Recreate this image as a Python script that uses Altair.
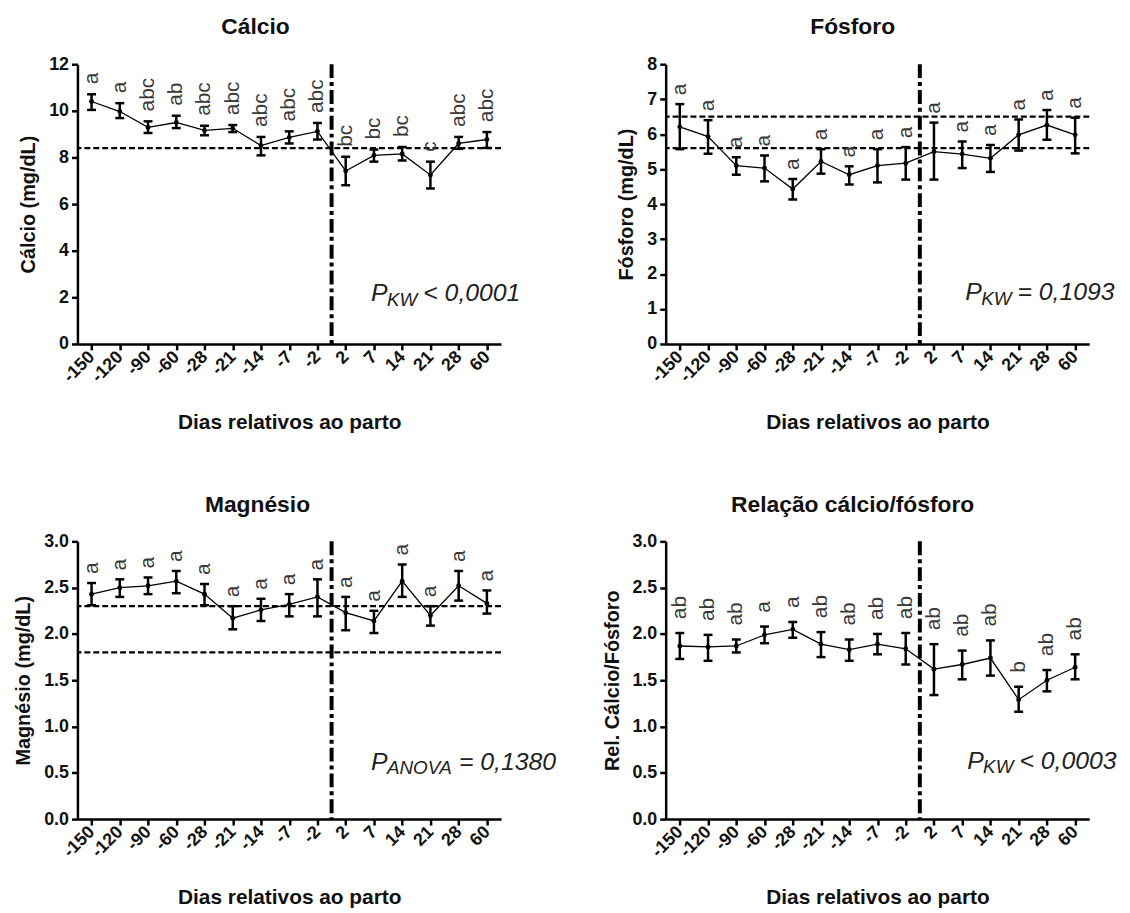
import json
import altair as alt
import pandas as pd

FONT = "Liberation Sans"

days = ["-150", "-120", "-90", "-60", "-28", "-21", "-14", "-7", "-2",
        "2", "7", "14", "21", "28", "60"]

ca_mean = [10.40, 9.97, 9.29, 9.50, 9.16, 9.25, 8.51, 8.86, 9.12, 7.42, 8.09, 8.15, 7.25, 8.60, 8.77]
ca_hi = [10.71, 10.33, 9.55, 9.79, 9.36, 9.39, 8.88, 9.12, 9.48, 8.03, 8.34, 8.45, 7.82, 8.88, 9.09]
ca_lo = [10.04, 9.69, 9.05, 9.26, 8.95, 9.09, 8.09, 8.60, 8.77, 6.81, 7.82, 7.87, 6.67, 8.37, 8.41]
ca_letters = ["a", "a", "abc", "ab", "abc", "abc", "abc", "abc", "abc", "bc", "bc", "bc", "c", "abc", "abc"]
ca_refs = [8.4]

p_mean = [6.21, 5.93, 5.10, 5.03, 4.43, 5.22, 4.84, 5.10, 5.17, 5.50, 5.43, 5.31, 5.98, 6.26, 5.98]
p_hi = [6.86, 6.40, 5.34, 5.39, 4.72, 5.57, 5.08, 5.57, 5.63, 6.33, 5.79, 5.69, 6.42, 6.69, 6.47]
p_lo = [5.57, 5.44, 4.84, 4.65, 4.13, 4.87, 4.56, 4.62, 4.70, 4.70, 5.03, 4.92, 5.53, 5.84, 5.45]
p_letters = ["a"] * 15
p_refs = [5.6, 6.5]

mg_mean = [2.43, 2.50, 2.52, 2.57, 2.43, 2.17, 2.26, 2.32, 2.40, 2.23, 2.14, 2.57, 2.20, 2.52, 2.33]
mg_hi = [2.55, 2.59, 2.61, 2.68, 2.54, 2.30, 2.38, 2.43, 2.59, 2.40, 2.25, 2.75, 2.30, 2.68, 2.47]
mg_lo = [2.31, 2.40, 2.43, 2.44, 2.31, 2.05, 2.14, 2.19, 2.19, 2.04, 2.01, 2.40, 2.09, 2.36, 2.22]
mg_letters = ["a"] * 15
mg_refs = [1.8, 2.3]

r_mean = [1.87, 1.86, 1.87, 1.99, 2.05, 1.89, 1.83, 1.89, 1.84, 1.62, 1.67, 1.74, 1.29, 1.50, 1.64]
r_hi = [2.01, 1.99, 1.94, 2.08, 2.13, 2.02, 1.94, 2.00, 2.01, 1.89, 1.82, 1.93, 1.43, 1.61, 1.78]
r_lo = [1.73, 1.71, 1.80, 1.90, 1.96, 1.75, 1.71, 1.78, 1.67, 1.34, 1.51, 1.55, 1.16, 1.38, 1.51]
r_letters = ["ab", "ab", "ab", "a", "a", "ab", "ab", "ab", "ab", "ab", "ab", "ab", "b", "ab", "ab"]
r_refs = []

LABEL_EXPR = json.dumps(days) + "[datum.value]"

# approximate italic advance widths (em) for subscript placement
ADV = {"K": 0.667, "W": 0.944, "A": 0.667, "N": 0.722, "O": 0.778, "V": 0.667}
SUB_SIZE = 19


def xenc(field):
    return alt.X(field, type="quantitative",
                 scale=alt.Scale(domain=[-0.5, 14.5], nice=False, zero=False),
                 axis=alt.Axis(values=list(range(15)), labelExpr=LABEL_EXPR,
                               title="Dias relativos ao parto", labelAngle=315,
                               labelAlign="right", labelBaseline="middle",
                               labelOverlap=False, labelFontSize=18, titleFontSize=21,
                               titlePadding=26, labelPadding=4))


def yenc(field, ymax, yticks, fmt, ytitle):
    return alt.Y(field, type="quantitative",
                 scale=alt.Scale(domain=[0, ymax], nice=False, zero=True),
                 axis=alt.Axis(values=yticks, format=fmt, title=ytitle,
                               labelFontSize=18, titleFontSize=20, titlePadding=10,
                               labelOverlap=False))


def panel(title, title_dx, ytitle, ymax, yticks, fmt, mean, lo, hi, letters, refs,
          sub, rest, ann_x, ann_y, letter_dx, height):
    df = pd.DataFrame({"i": list(range(len(days))), "day": days, "mean": mean,
                       "lo": lo, "hi": hi, "letter": letters})
    base = alt.Chart(df)
    Y = lambda f: yenc(f, ymax, yticks, fmt, ytitle)

    layers = []
    if refs:
        layers.append(alt.Chart(pd.DataFrame({"r": refs})).mark_rule(
            color="black", strokeWidth=2.3, strokeDash=[6, 3]).encode(y=Y("r")))
    layers.append(alt.Chart(pd.DataFrame({"v": [8.5]})).mark_rule(
        color="black", strokeWidth=4, strokeDash=[14, 4, 4, 4]).encode(x=xenc("v")))
    layers.append(base.mark_line(color="black", strokeWidth=1.3).encode(x=xenc("i"), y=Y("mean")))
    layers.append(base.mark_rule(color="black", strokeWidth=2.5).encode(
        x=xenc("i"), y=Y("lo"), y2=alt.Y2("hi")))
    layers.append(base.mark_tick(color="black", thickness=2.5, size=9, orient="horizontal",
                                 opacity=1).encode(x=xenc("i"), y=Y("lo")))
    layers.append(base.mark_tick(color="black", thickness=2.5, size=9, orient="horizontal",
                                 opacity=1).encode(x=xenc("i"), y=Y("hi")))
    layers.append(base.mark_circle(color="black", size=24, opacity=1).encode(
        x=xenc("i"), y=Y("mean")))
    layers.append(base.mark_text(angle=270, align="left", baseline="middle", dx=letter_dx,
                                 fontSize=21, font=FONT, color="#3a3a3a").encode(
        x=xenc("i"), y=Y("hi"), text="letter:N"))

    sub_w = sum(ADV[c] for c in sub) * SUB_SIZE
    ann = alt.Chart(pd.DataFrame({"t": ["P"]}))
    layers.append(ann.mark_text(align="left", baseline="alphabetic", fontSize=25,
                                fontStyle="italic", font=FONT, color="#222222").encode(
        x=alt.value(ann_x), y=alt.value(ann_y), text=alt.value("P")))
    layers.append(ann.mark_text(align="left", baseline="alphabetic", fontSize=SUB_SIZE,
                                fontStyle="italic", font=FONT, color="#222222").encode(
        x=alt.value(ann_x + 16), y=alt.value(ann_y + 5), text=alt.value(sub)))
    layers.append(ann.mark_text(align="left", baseline="alphabetic", fontSize=25,
                                fontStyle="italic", font=FONT, color="#222222").encode(
        x=alt.value(ann_x + 16 + sub_w + 6), y=alt.value(ann_y), text=alt.value(rest)))

    return alt.layer(*layers).properties(
        width=427, height=height,
        title=alt.TitleParams(title, fontSize=23, fontWeight="bold", font=FONT,
                              frame="group", anchor="middle", dx=title_dx, offset=16,
                              color="#111111"))


c1 = panel("Cálcio", -34, "Cálcio (mg/dL)", 12, [0, 2, 4, 6, 8, 10, 12], "d",
           ca_mean, ca_lo, ca_hi, ca_letters, ca_refs, "KW", "< 0,0001", 296, 239, 10, 282)
c2 = panel("Fósforo", -25, "Fósforo (mg/dL)", 8, [0, 1, 2, 3, 4, 5, 6, 7, 8], "d",
           p_mean, p_lo, p_hi, p_letters, p_refs, "KW", "= 0,1093", 302, 238, 9, 282)
c3 = panel("Magnésio", -32, "Magnésio (mg/dL)", 3, [0, 0.5, 1, 1.5, 2, 2.5, 3], ".1f",
           mg_mean, mg_lo, mg_hi, mg_letters, mg_refs, "ANOVA", "= 0,1380", 296, 230, 9, 280)
c4 = panel("Relação cálcio/fósforo", -25, "Rel. Cálcio/Fósforo", 3, [0, 0.5, 1, 1.5, 2, 2.5, 3], ".1f",
           r_mean, r_lo, r_hi, r_letters, r_refs, "KW", "< 0,0003", 304, 229, 14, 280)

chart = alt.concat(c1, c2, c3, c4, columns=2,
                   spacing=alt.RowColnumber(row=199, column=166), bounds="flush").configure(
    font=FONT, background="white"
).configure_view(stroke=None).configure_axis(
    grid=False, domainColor="black", domainWidth=2.5, tickColor="black", tickWidth=2.5,
    tickSize=6, labelFont=FONT, labelFontWeight="bold", labelColor="#111111",
    titleFont=FONT, titleFontWeight="bold", titleColor="#111111", labelPadding=3
)

chart.save("out.html", embed_options={"renderer": "svg", "actions": False})
